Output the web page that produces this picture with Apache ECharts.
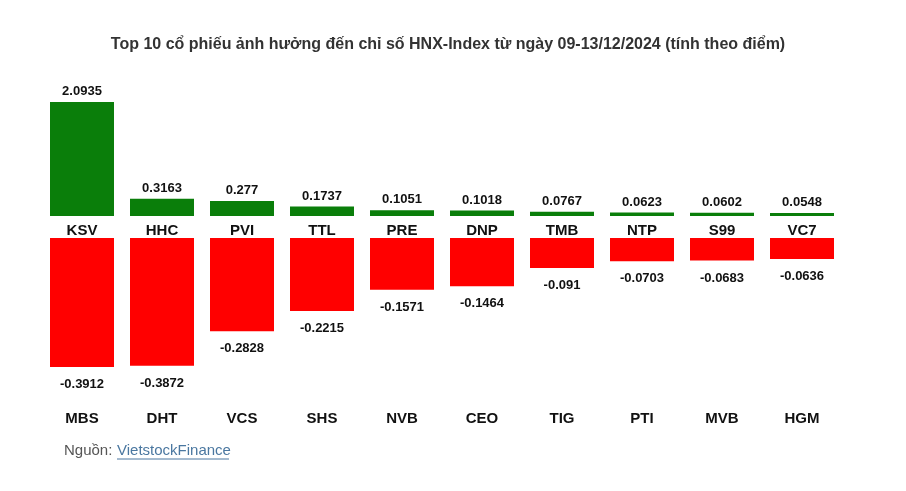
<!DOCTYPE html>
<html><head><meta charset="utf-8">
<script src="https://cdn.jsdelivr.net/npm/echarts@6/dist/echarts.min.js"></script>
<style>html,body{margin:0;padding:0;background:#fff}#c{width:906px;height:491px}</style>
</head><body><div id="c"></div>
<script>
const titleText = 'Top 10 cổ phiếu ảnh hưởng đến chỉ số HNX-Index từ ngày 09-13/12/2024 (tính theo điểm)';
const topCats = ['KSV','HHC','PVI','TTL','PRE','DNP','TMB','NTP','S99','VC7'];
const topVals = [2.0935,0.3163,0.277,0.1737,0.1051,0.1018,0.0767,0.0623,0.0602,0.0548];
const botCats = ['MBS','DHT','VCS','SHS','NVB','CEO','TIG','PTI','MVB','HGM'];
const botVals = [-0.3912,-0.3872,-0.2828,-0.2215,-0.1571,-0.1464,-0.091,-0.0703,-0.0683,-0.0636];

const FONT = '"Liberation Sans", Arial, sans-serif';
const chart = echarts.init(document.getElementById('c'), null, {renderer:'canvas'});
chart.setOption({
  backgroundColor:'#fff',
  animation:false,
  title:{text:titleText,left:443,textAlign:'center',top:32,
    textStyle:{fontFamily:FONT,fontSize:16,fontWeight:'bold',color:'#333'}},
  grid:[
    {left:42,width:800,top:102,height:114},
    {left:42,width:800,top:238,height:129}
  ],
  xAxis:[
    {gridIndex:0,type:'category',data:topCats,axisLine:{show:false},axisTick:{show:false},
     axisLabel:{margin:7,fontFamily:FONT,fontSize:15,fontWeight:'bold',color:'#111'}},
    {gridIndex:1,type:'category',data:botCats,position:'bottom',axisLine:{show:false,onZero:false},axisTick:{show:false},
     axisLabel:{margin:44,fontFamily:FONT,fontSize:15,fontWeight:'bold',color:'#111'}}
  ],
  yAxis:[
    {gridIndex:0,type:'value',min:0,max:2.0935,show:false,splitLine:{show:false}},
    {gridIndex:1,type:'value',min:-0.3912,max:0,show:false,splitLine:{show:false}}
  ],
  series:[
    {type:'bar',xAxisIndex:0,yAxisIndex:0,data:topVals,barWidth:64,
     itemStyle:{color:'#0a7e0a'},
     label:{show:true,position:'top',distance:4,fontFamily:FONT,fontSize:13,fontWeight:'bold',color:'#111'}},
    {type:'bar',xAxisIndex:1,yAxisIndex:1,data:botVals,barWidth:64,
     itemStyle:{color:'#ff0000'},
     label:{show:true,position:'bottom',distance:11,fontFamily:FONT,fontSize:13,fontWeight:'bold',color:'#111'}}
  ],
  graphic:[
    {type:'text',left:64,top:443,style:{text:'Nguồn: ',font:'15px '+FONT,fill:'#555'}},
    {type:'text',left:117,top:443,style:{text:'VietstockFinance',font:'15px '+FONT,fill:'#4a77a0'}},
    {type:'line',shape:{x1:117,y1:459,x2:229,y2:459},style:{stroke:'#4a77a0',lineWidth:1}}
  ]
});
</script></body></html>
